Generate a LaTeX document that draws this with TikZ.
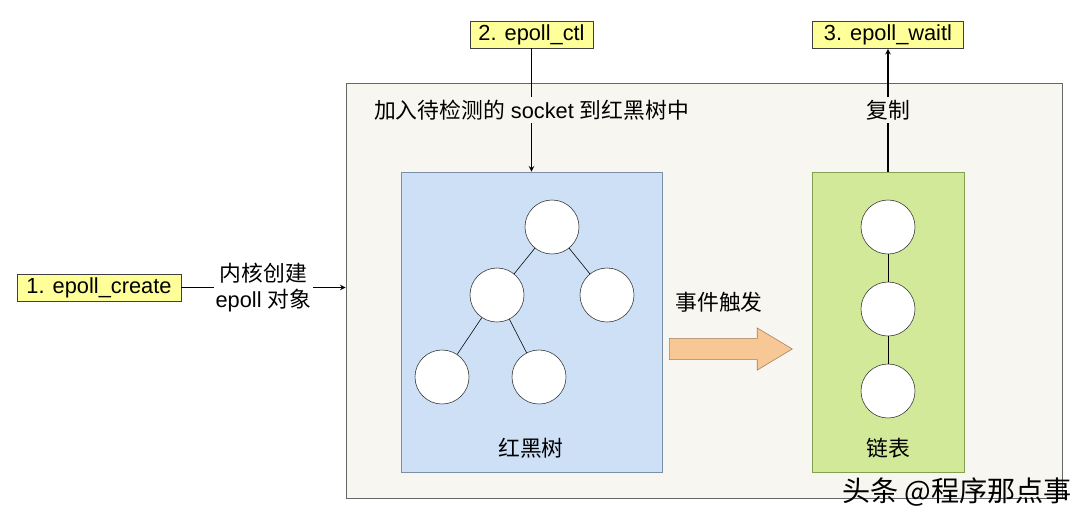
\documentclass[tikz,border=0pt]{standalone}
\usepackage{fontspec}
\setmainfont{Liberation Sans}
\newfontfamily\cjk{Noto Sans CJK SC}
\usepackage{xcolor}
\usetikzlibrary{shapes.arrows,positioning}

\definecolor{boxbg}{HTML}{F8F6F0}
\definecolor{treefill}{HTML}{CDE0F5}
\definecolor{treeline}{HTML}{7A8EA8}
\definecolor{listfill}{HTML}{D3E99A}
\definecolor{listline}{HTML}{82A050}
\definecolor{callfill}{HTML}{FFFF99}
\definecolor{arrowfill}{HTML}{F7C896}
\definecolor{arrowline}{HTML}{A08060}

\tikzset{
  kernelbox/.style={draw=gray!80!black,fill=boxbg,minimum width=17.9cm,minimum height=10.375cm},
  treebox/.style={draw=treeline,fill=treefill,minimum width=6.525cm,minimum height=7.5cm},
  listbox/.style={draw=listline,fill=listfill,minimum width=3.8cm,minimum height=7.5cm},
  callbox/.style={draw=black!75,fill=callfill,minimum height=0.675cm,inner sep=0pt},
  dot/.style={circle,draw=black!80,fill=white,minimum size=1.35cm,inner sep=0pt},
  fatarrow/.style={single arrow,draw=arrowline,fill=arrowfill,minimum height=3.075cm,
    minimum width=1.05cm,inner xsep=0pt,inner ysep=0.26cm,single arrow head extend=0.26cm,
    single arrow tip angle=62}
}

\begin{document}
\begin{tikzpicture}[x=0.025cm,y=-0.025cm,font=\fontsize{15.5pt}{19pt}\selectfont]
      \useasboundingbox (0,0) rectangle (1080,522);
      % boxes
      \node[kernelbox] (kernel) at (704,290.5) {};
      \node[treebox] (rbtree) at (531.5,322) {};
      \node[listbox] (list) at (888,322) {};
      % calls
      \node[callbox,minimum width=4.1cm] (create) at (99,287.5) {1. epoll\_create};
      \node[callbox,minimum width=3.075cm] (ctl) at (531.5,34.5) {2. epoll\_ctl};
      \node[callbox,minimum width=3.775cm] (wait) at (888,35) {3. epoll\_waitl};
      % red-black tree
      \node[dot] (n1) at (552,227) {};
      \node[dot] (n2) at (497,295) {};
      \node[dot] (n3) at (607,295) {};
      \node[dot] (n4) at (442,377) {};
      \node[dot] (n5) at (539,377) {};
      \draw (n1) -- (n2) (n1) -- (n3) (n2) -- (n4) (n2) -- (n5);
      \node (treename) at (531,448) {\cjk 红黑树};
      % list
      \node[dot] (l1) at (888,227) {};
      \node[dot] (l2) at (888,309) {};
      \node[dot] (l3) at (888,391) {};
      \draw (l1) -- (l2) -- (l3);
      \node (listname) at (888,448) {\cjk 链表};
      % event
      \node[fatarrow,anchor=tail] (trigger) at (669,349) {};
      \node (triggername) at (719,302) {\cjk 事件触发};
      % connectors
      \draw [thick,->,>=stealth] (create) -- (kernel.west |- create)
            node[midway,fill=white,align=center,inner sep=1pt] {{\cjk 内核创建}\\epoll {\cjk 对象}};
      \draw [thick,->,>=stealth] (ctl) -- (ctl |- rbtree.north)
            node[midway,fill=boxbg,inner sep=2pt] {{\cjk 加入待检测的} socket {\cjk 到红黑树中}};
      \draw [thick,->,>=stealth] (wait |- list.north) -- (wait)
            node[midway,fill=boxbg,inner sep=2pt] {\cjk 复制};
      \node[font=\fontsize{20pt}{24pt}\selectfont\cjk] (watermark) at (957,492) {头条 @程序那点事};
\end{tikzpicture}
\end{document}
